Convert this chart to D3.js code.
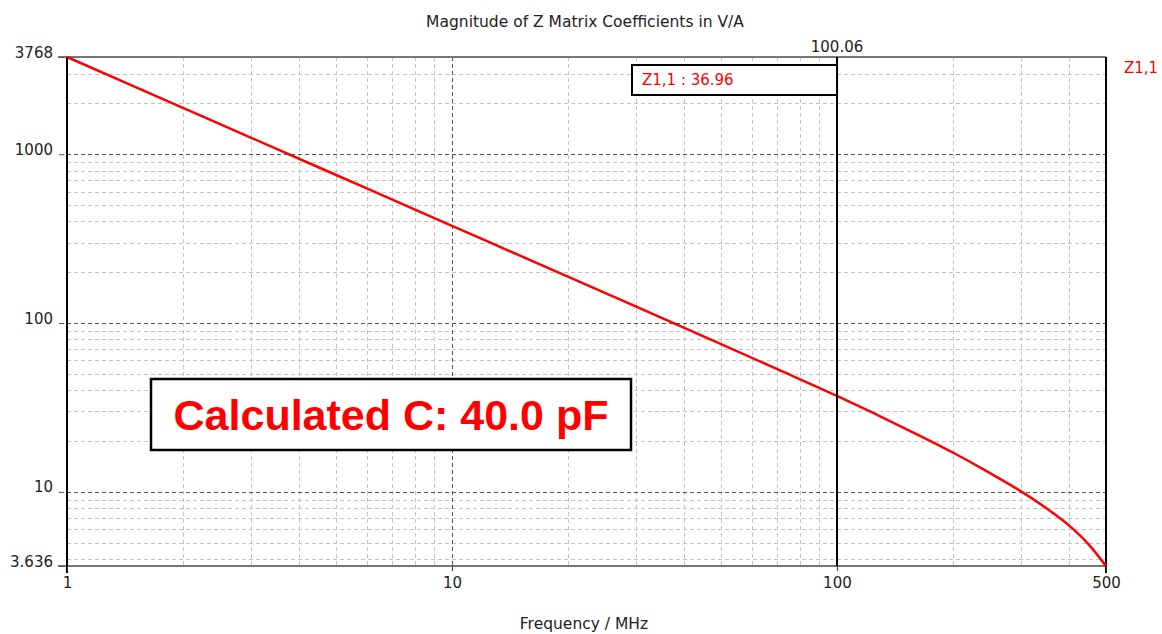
<!DOCTYPE html>
<html>
<head>
<meta charset="utf-8">
<script src="https://cdn.jsdelivr.net/npm/d3@7"></script>
<style>
  html, body { margin: 0; padding: 0; background: #fff; }
  svg { display: block; }
</style>
</head>
<body>
<svg id="chart" width="1162" height="634"></svg>
<script>
// Impedance magnitude |Z1,1| over frequency
const freqMHz = [1, 2, 3, 5, 10, 20, 30, 50, 70, 100, 150, 200, 250, 300, 350, 400, 450, 500];
const zMag    = [3768, 1884, 1256, 753.5, 376.7, 188.3, 125.4, 75.0, 53.3, 37.0, 23.8, 17.1, 12.9, 10.1, 8.0, 6.35, 4.9, 3.636];

const xDomain = [1, 500];
const yDomain = [3.636, 3768];
const xTickValues = [1, 10, 100, 500];
const xTickLabels = ["1", "10", "100", "500"];
const yTickValues = [3.636, 10, 100, 1000, 3768];
const yTickLabels = ["3.636", "10", "100", "1000", "3768"];
const xMajorGrid = [10, 100];
const yMajorGrid = [10, 100, 1000];

const cursorFreq = 100.06;
const cursorLabel = "100.06";
const cursorReadout = "Z1,1 : 36.96";
const seriesName = "Z1,1";
const noteText = "Calculated C: 40.0 pF";
const titleText = "Magnitude of Z Matrix Coefficients in V/A";
const xTitle = "Frequency / MHz";

const uiFont = "DejaVu Sans, Verdana, sans-serif";
const svg = d3.select("#chart");
const plot = { left: 67, right: 1106, top: 57, bottom: 566 };

const x = d3.scaleLog().domain(xDomain).range([plot.left, plot.right]);
const y = d3.scaleLog().domain(yDomain).range([plot.bottom, plot.top]);

// minor grid values: 2..9 of each decade inside the domain
function minors(domain) {
  const out = [];
  for (let e = -1; e <= 4; e++) {
    for (let m = 2; m <= 9; m++) {
      const v = m * Math.pow(10, e);
      if (v > domain[0] && v < domain[1]) out.push(v);
    }
  }
  return out;
}

const grid = svg.append("g");
grid.selectAll("line.xmin").data(minors(xDomain)).join("line")
  .attr("x1", d => Math.round(x(d)) + 0.5).attr("x2", d => Math.round(x(d)) + 0.5)
  .attr("y1", plot.top).attr("y2", plot.bottom)
  .attr("stroke", "#c4c4c4").attr("stroke-dasharray", "4,3");
grid.selectAll("line.ymin").data(minors(yDomain)).join("line")
  .attr("y1", d => Math.round(y(d)) + 0.5).attr("y2", d => Math.round(y(d)) + 0.5)
  .attr("x1", plot.left).attr("x2", plot.right)
  .attr("stroke", "#c4c4c4").attr("stroke-dasharray", "4,3");
grid.selectAll("line.xmaj").data(xMajorGrid).join("line")
  .attr("x1", d => Math.round(x(d)) + 0.5).attr("x2", d => Math.round(x(d)) + 0.5)
  .attr("y1", plot.top).attr("y2", plot.bottom)
  .attr("stroke", "#555").attr("stroke-dasharray", "4,3");
grid.selectAll("line.ymaj").data(yMajorGrid).join("line")
  .attr("y1", d => Math.round(y(d)) + 0.5).attr("y2", d => Math.round(y(d)) + 0.5)
  .attr("x1", plot.left).attr("x2", plot.right)
  .attr("stroke", "#555").attr("stroke-dasharray", "4,3");

// frame: grey top and bottom, black left and right
svg.append("line").attr("x1", 58).attr("x2", plot.right).attr("y1", plot.top).attr("y2", plot.top)
  .attr("stroke", "#777").attr("stroke-width", 2);
svg.append("line").attr("x1", 58).attr("x2", plot.right).attr("y1", plot.bottom).attr("y2", plot.bottom)
  .attr("stroke", "#777").attr("stroke-width", 2);
svg.append("line").attr("x1", plot.left).attr("x2", plot.left).attr("y1", plot.top).attr("y2", plot.bottom + 7)
  .attr("stroke", "#000").attr("stroke-width", 2);
svg.append("line").attr("x1", plot.right).attr("x2", plot.right).attr("y1", plot.top).attr("y2", plot.bottom + 7)
  .attr("stroke", "#000").attr("stroke-width", 2);

// axes
const yAxis = d3.axisLeft(y).tickValues(yTickValues)
  .tickFormat((d, i) => yTickLabels[i]).tickSize(5).tickPadding(6);
const gy = svg.append("g").attr("transform", `translate(${plot.left - 3},0)`).call(yAxis);
gy.select(".domain").remove();
gy.selectAll(".tick line").attr("stroke", "#555");
gy.selectAll("text").attr("font-size", 15).attr("fill", "#222")
  .attr("font-family", uiFont).attr("dy", "0");

const xAxis = d3.axisBottom(x).tickValues(xTickValues)
  .tickFormat((d, i) => xTickLabels[i]).tickSize(5).tickPadding(6);
const gx = svg.append("g").attr("transform", `translate(0,${plot.bottom})`).call(xAxis);
gx.select(".domain").remove();
gx.selectAll(".tick line").attr("stroke", "#333");
gx.selectAll("text").attr("font-size", 15).attr("fill", "#222")
  .attr("font-family", uiFont);

// series
const line = d3.line()
  .x((d, i) => x(freqMHz[i]))
  .y(d => y(d))
  .curve(d3.curveMonotoneX);
svg.append("path").datum(zMag).attr("d", line)
  .attr("fill", "none").attr("stroke", "#ff0000").attr("stroke-width", 2.5);

// cursor
const cx = x(cursorFreq);
svg.append("line").attr("x1", cx).attr("x2", cx).attr("y1", plot.top).attr("y2", plot.bottom)
  .attr("stroke", "#000").attr("stroke-width", 2);
svg.append("text").attr("x", cx).attr("y", 52).attr("text-anchor", "middle")
  .attr("font-family", uiFont).attr("font-size", 15).attr("fill", "#222").text(cursorLabel);
svg.append("rect").attr("x", 632).attr("y", 65).attr("width", cx - 632).attr("height", 30)
  .attr("fill", "#fff").attr("stroke", "#000").attr("stroke-width", 2);
svg.append("text").attr("x", 642).attr("y", 85)
  .attr("font-family", uiFont).attr("font-size", 15).attr("fill", "#ff0000").text(cursorReadout);

// legend
svg.append("text").attr("x", 1124).attr("y", 73)
  .attr("font-family", uiFont).attr("font-size", 15).attr("fill", "#ff0000").text(seriesName);

// titles
svg.append("text").attr("x", 585).attr("y", 27).attr("text-anchor", "middle")
  .attr("font-family", uiFont).attr("font-size", 15.5).attr("fill", "#222").text(titleText);
svg.append("text").attr("x", 584).attr("y", 629).attr("text-anchor", "middle")
  .attr("font-family", uiFont).attr("font-size", 15.5).attr("fill", "#222").text(xTitle);

// annotation box
svg.append("rect").attr("x", 151).attr("y", 379).attr("width", 480).attr("height", 71)
  .attr("fill", "#fff").attr("stroke", "#000").attr("stroke-width", 2.5);
svg.append("text").attr("x", 391).attr("y", 430).attr("text-anchor", "middle")
  .attr("font-family", "Liberation Sans, Arial, sans-serif").attr("font-weight", "bold")
  .attr("font-size", 43).attr("fill", "#ff0000").text(noteText);
</script>
</body>
</html>
